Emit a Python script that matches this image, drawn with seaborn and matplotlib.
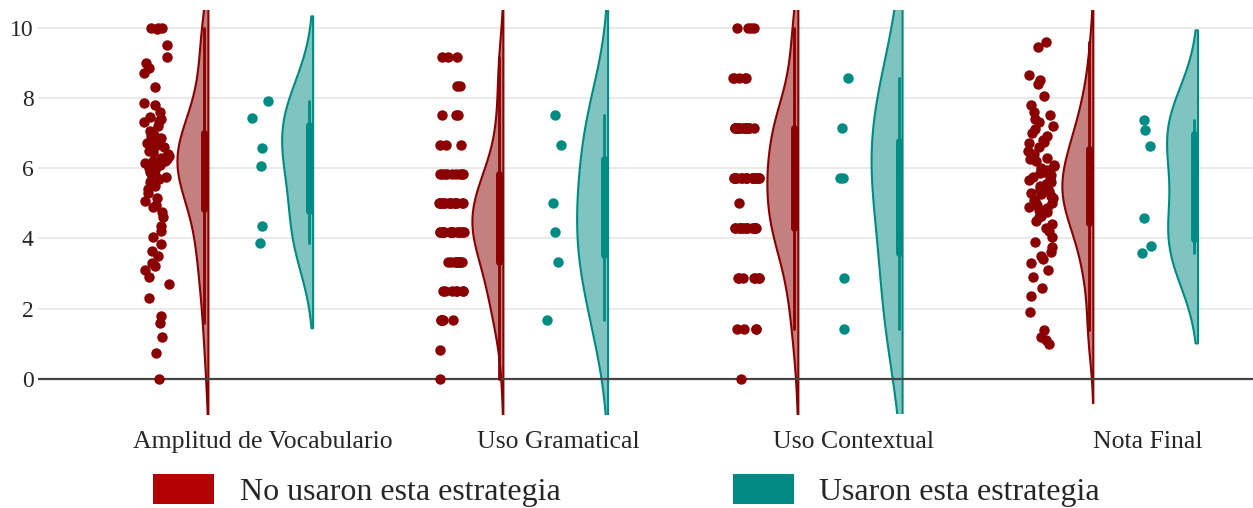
import numpy as np
import pandas as pd
import matplotlib.pyplot as plt
import seaborn as sns
from matplotlib.patches import Patch

# categories and groups
metrics = ["Amplitud de Vocabulario", "Uso Gramatical", "Uso Contextual", "Nota Final"]
groups = ["No usaron esta estrategia", "Usaron esta estrategia"]

# values (scores 0-10)
vocab_no = [10.0, 10.0, 10.0, 9.95, 9.5, 9.15, 9.0, 8.85, 8.7, 8.3, 7.85, 7.8, 7.6, 7.45, 7.4,
            7.35, 7.3, 7.2, 7.05, 6.95, 6.9, 6.85, 6.8, 6.7, 6.65, 6.6, 6.55, 6.5, 6.45, 6.4,
            6.35, 6.3, 6.25, 6.2, 6.2, 6.15, 6.1, 6.1, 6.05, 6.0, 6.0, 5.95, 5.9, 5.85, 5.8,
            5.75, 5.7, 5.65, 5.6, 5.5, 5.4, 5.3, 5.15, 5.05, 4.95, 4.9, 4.75, 4.6, 4.35, 4.2,
            4.05, 3.85, 3.65, 3.5, 3.3, 3.2, 3.1, 2.9, 2.7, 2.3, 1.8, 1.6, 1.2, 0.75, 0.0]
vocab_si = [7.92, 7.43, 6.58, 6.07, 4.36, 3.87]

gram_levels = [0.0, 0.83, 1.67, 2.5, 3.33, 4.17, 5.0, 5.83, 6.67, 7.5, 8.33, 9.17]
gram_counts = [1, 1, 5, 7, 9, 17, 15, 9, 3, 3, 2, 3]
gram_si = [7.5, 6.67, 5.0, 4.17, 3.33, 1.67]

ctx_levels = [0.0, 1.43, 2.86, 4.29, 5.0, 5.71, 7.14, 8.57, 10.0]
ctx_counts = [1, 4, 7, 17, 1, 19, 17, 5, 4]
ctx_si = [8.57, 7.14, 5.71, 5.71, 2.86, 1.43]

final_no = [9.6, 9.45, 8.65, 8.5, 8.4, 8.05, 7.8, 7.6, 7.5, 7.4, 7.3, 7.2, 7.1, 7.0, 6.9,
            6.8, 6.75, 6.7, 6.6, 6.5, 6.4, 6.3, 6.25, 6.2, 6.1, 6.05, 6.0, 5.95, 5.9, 5.85,
            5.8, 5.75, 5.7, 5.65, 5.6, 5.55, 5.5, 5.45, 5.4, 5.35, 5.3, 5.25, 5.2, 5.15, 5.1,
            5.05, 5.0, 4.95, 4.9, 4.85, 4.8, 4.75, 4.7, 4.65, 4.6, 4.5, 4.4, 4.3, 4.2, 4.05,
            3.9, 3.75, 3.6, 3.5, 3.4, 3.3, 3.1, 2.9, 2.6, 2.35, 1.9, 1.4, 1.2, 1.1, 1.0]
final_si = [7.38, 7.09, 6.64, 4.58, 3.77, 3.58]

gram_no = np.repeat(gram_levels, gram_counts)
ctx_no = np.repeat(ctx_levels, ctx_counts)

series = {
    groups[0]: [vocab_no, gram_no, ctx_no, final_no],
    groups[1]: [vocab_si, gram_si, ctx_si, final_si],
}

rows = []
for g, lists in series.items():
    for i, vals in enumerate(lists):
        for v in vals:
            rows.append({"metric": i, "group": g, "value": v})
df = pd.DataFrame(rows)

dark = {groups[0]: "#8B0000", groups[1]: "#008B84"}
fill = {groups[0]: "#C47F7F", groups[1]: "#80C4C1"}
legend_col = {groups[0]: "#B40000", groups[1]: "#008A84"}
vwidth = 0.105
# half violins: flat edge sits at position + width/2
violin_off = {groups[0]: -0.187 - vwidth / 2, groups[1]: 0.168 - vwidth / 2}
strip_off = {groups[0]: -0.362, groups[1]: -0.013}
jit = {groups[0]: 0.045, groups[1]: 0.03}

sns.set_style("white")
plt.rcParams["font.family"] = ["Liberation Serif", "DejaVu Serif"]

fig = plt.figure(figsize=(12.53, 5.08), dpi=100)
ax = fig.add_axes([38 / 1253, 1 - 414 / 508, 1 - 38 / 1253, 404 / 508])

np.random.seed(3)
for g in groups:
    sub = df[df["group"] == g].copy()
    sub["vx"] = sub["metric"] + violin_off[g]
    sub["sx"] = sub["metric"] + strip_off[g]
    sns.violinplot(data=sub, x="vx", y="value", native_scale=True, orient="x",
                   split=True, inner="box", width=vwidth, density_norm="width",
                   cut=2, bw_adjust=1.06, color=fill[g], linecolor=dark[g],
                   linewidth=1.5, saturation=1,
                   inner_kws=dict(box_width=5, whis_width=2, marker=""), ax=ax)
    sns.stripplot(data=sub, x="sx", y="value", native_scale=True, orient="x",
                  jitter=jit[g], color=dark[g], size=7.5, linewidth=0, ax=ax)

ax.set_xlim(-0.763, 3.356)
ax.set_ylim(-1.0, 10.5)
ax.set_yticks([0, 2, 4, 6, 8, 10])
ax.set_xticks(range(len(metrics)))
ax.set_xticklabels(metrics)
ax.set_xlabel("")
ax.set_ylabel("")
ax.tick_params(axis="both", length=0, labelsize=17)
ax.tick_params(axis="x", pad=12, labelsize=18.5)
ax.tick_params(axis="y", pad=3)
ax.yaxis.grid(True, color="#E6E6E6", linewidth=1.2)
ax.set_axisbelow(True)
ax.axhline(0, color="#444444", linewidth=1.6, zorder=1)
sns.despine(ax=ax, left=True, bottom=True)

handles = [Patch(facecolor=legend_col[g], edgecolor="none") for g in groups]
fig.legend(handles, groups, loc="center", bbox_to_anchor=(0.5, 0.035), ncol=2,
           frameon=False, fontsize=23, handlelength=1.9, handleheight=1.1,
           handletextpad=0.8, columnspacing=5.4)

fig.savefig("out.png", dpi=100)
